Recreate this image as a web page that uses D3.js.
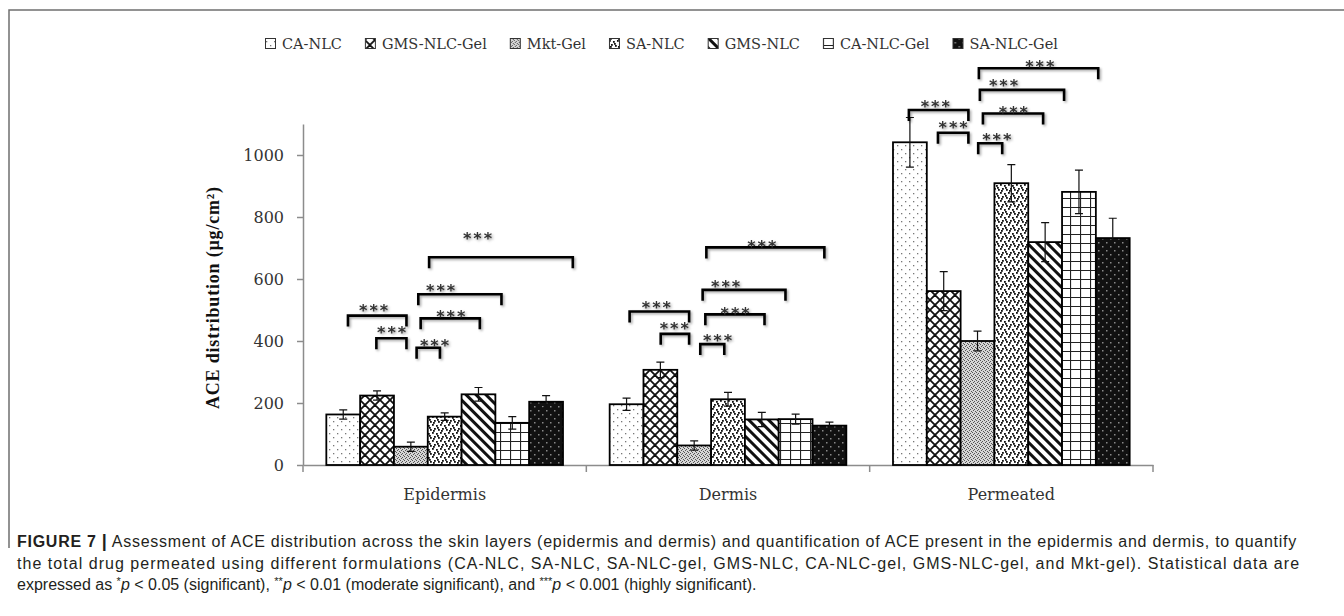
<!DOCTYPE html>
<html>
<head>
<meta charset="utf-8">
<title>ACE distribution</title>
<script src="https://cdnjs.cloudflare.com/ajax/libs/d3/7.8.5/d3.min.js"></script>
<style>
  html, body { margin: 0; padding: 0; background: #fff; }
  svg { display: block; }
  .axis text, .cat { font-family: 'DejaVu Serif', serif; font-size: 16px; fill: #333; }
  .legend text { font-family: 'DejaVu Serif', serif; font-size: 14.5px; fill: #333; }
  .ylabel { font-family: 'Liberation Serif', 'Times New Roman', serif; font-weight: bold; font-size: 18px; letter-spacing: 0.8px; fill: #111; }
  .stars { font-family: 'DejaVu Sans', sans-serif; font-weight: bold; font-size: 16px; letter-spacing: 2px; fill: #333; }
  .caption { font-family: 'Liberation Sans', Arial, sans-serif; font-size: 16px; fill: #231f20; }
</style>
</head>
<body>
<svg id="chart" width="1344" height="616"></svg>
<script>
const categories = ['Epidermis', 'Dermis', 'Permeated'];
const seriesNames = ['CA-NLC', 'GMS-NLC-Gel', 'Mkt-Gel', 'SA-NLC', 'GMS-NLC', 'CA-NLC-Gel', 'SA-NLC-Gel'];

// mean values per series (Epidermis, Dermis, Permeated)
const caNlc     = [163, 196, 1041];
const gmsNlcGel = [224, 307, 561];
const mktGel    = [59, 63, 400];
const saNlc     = [156, 212, 909];
const gmsNlc    = [228, 147, 719];
const caNlcGel  = [136, 148, 881];
const saNlcGel  = [204, 127, 732];

// error bar half widths
const caNlcErr     = [15, 20, 80];
const gmsNlcGelErr = [15, 25, 63];
const mktGelErr    = [15, 15, 32];
const saNlcErr     = [12, 22, 60];
const gmsNlcErr    = [22, 23, 63];
const caNlcGelErr  = [20, 16, 70];
const saNlcGelErr  = [20, 11, 64];

const yTicks = [0, 200, 400, 600, 800, 1000];

// significance brackets: category, from slot, to slot, level, star slot, star level
const brackets = [
  [0, 0.64, 2.37, 482, 1.40, 510],
  [0, 1.48, 2.37, 409, 1.93, 439],
  [0, 2.67, 3.36, 378, 3.20, 398],
  [0, 2.79, 4.54, 473, 3.68, 491],
  [0, 2.72, 5.18, 551, 3.38, 575],
  [0, 3.04, 7.29, 670, 4.47, 745],
  [1, 0.59, 2.35, 495, 1.38, 522],
  [1, 1.51, 2.35, 423, 1.91, 452],
  [1, 2.68, 3.39, 390, 3.19, 414],
  [1, 2.83, 4.58, 486, 3.71, 502],
  [1, 2.75, 5.20, 565, 3.43, 588],
  [1, 2.86, 6.35, 702, 4.50, 718],
  [2, 0.47, 2.23, 1145, 1.25, 1170],
  [2, 1.33, 2.23, 1072, 1.78, 1102],
  [2, 2.52, 3.23, 1038, 3.07, 1062],
  [2, 2.66, 4.44, 1134, 3.56, 1150],
  [2, 2.57, 5.06, 1210, 3.27, 1236],
  [2, 2.54, 6.07, 1280, 4.34, 1298]
];

const captionLines = [
  'Assessment of ACE distribution across the skin layers (epidermis and dermis) and quantification of ACE present in the epidermis and dermis, to quantify',
  'the total drug permeated using different formulations (CA-NLC, SA-NLC, SA-NLC-gel, GMS-NLC, CA-NLC-gel, GMS-NLC-gel, and Mkt-gel). Statistical data are'
];

const values = [caNlc, gmsNlcGel, mktGel, saNlc, gmsNlc, caNlcGel, saNlcGel];
const errors = [caNlcErr, gmsNlcGelErr, mktGelErr, saNlcErr, gmsNlcErr, caNlcGelErr, saNlcGelErr];
const patternIds = ['pCa', 'pGmsGel', 'pMkt', 'pSa', 'pGms', 'pCaGel', 'pSaGel'];

const svg = d3.select('#chart');
const defs = svg.append('defs');

// fill patterns, one per formulation
function tile(id, w, h, bg) {
  const p = defs.append('pattern').attr('id', id)
    .attr('patternUnits', 'userSpaceOnUse')
    .attr('width', w).attr('height', h);
  p.append('rect').attr('width', w).attr('height', h).attr('fill', bg);
  return p;
}
let p = tile('pCa', 8, 8, '#fff');
p.append('rect').attr('x', 1).attr('y', 1).attr('width', 1.3).attr('height', 1.3).attr('fill', '#777');
p.append('rect').attr('x', 5).attr('y', 5).attr('width', 1.3).attr('height', 1.3).attr('fill', '#777');

p = tile('pGmsGel', 10, 10, '#fff');
p.append('path').attr('d', 'M0,0L10,10M10,0L0,10M-5,5L5,-5M5,15L15,5M-5,5L5,15M5,-5L15,5')
  .attr('stroke', '#111').attr('stroke-width', 1.8);

p = tile('pMkt', 4, 4, '#d6d6d6');
[[0, 0], [2, 1], [1, 2], [3, 3]].forEach(d => p.append('rect').attr('x', d[0]).attr('y', d[1])
  .attr('width', 1).attr('height', 1).attr('fill', '#555'));

p = tile('pSa', 8, 8, '#fff');
[[0, 0], [4, 1], [2, 4], [6, 5], [1, 6], [5, 3]].forEach(d => p.append('rect').attr('x', d[0]).attr('y', d[1])
  .attr('width', 1.8).attr('height', 1.8).attr('fill', '#111'));

p = defs.append('pattern').attr('id', 'pGms').attr('patternUnits', 'userSpaceOnUse')
  .attr('width', 7).attr('height', 7).attr('patternTransform', 'rotate(-45)');
p.append('rect').attr('width', 7).attr('height', 7).attr('fill', '#fff');
p.append('rect').attr('width', 3).attr('height', 7).attr('fill', '#111');

p = tile('pCaGel', 10, 9, '#fff');
p.append('path').attr('d', 'M0.5,0V9M0,0.5H10').attr('stroke', '#222').attr('stroke-width', 1.2);

p = tile('pSaGel', 8, 8, '#111');
p.append('rect').attr('x', 2).attr('y', 2).attr('width', 1.5).attr('height', 1.5).attr('fill', '#888');
p.append('rect').attr('x', 6).attr('y', 6).attr('width', 1.5).attr('height', 1.5).attr('fill', '#888');

const shadow = defs.append('filter').attr('id', 'shadow')
  .attr('x', '-10%').attr('y', '-30%').attr('width', '130%').attr('height', '180%');
shadow.append('feDropShadow').attr('dx', 1.5).attr('dy', 1.5).attr('stdDeviation', 1)
  .attr('flood-color', '#000').attr('flood-opacity', 0.35);

// frame
svg.append('path').attr('d', 'M1344,10H9V548')
  .attr('fill', 'none').attr('stroke', '#6f6f6f').attr('stroke-width', 1.5);

// scales
const x0 = d3.scaleBand().domain(categories).range([303, 1153]);
const x1 = d3.scaleBand().domain(seriesNames).range([0, x0.bandwidth()]).paddingOuter(0.69);
const y = d3.scaleLinear().domain([0, 1100]).range([465, 124]);

function slotX(ci, pos) {
  return x0(categories[ci]) + x1(seriesNames[0]) + pos * x1.step();
}

// y axis
const yAxis = svg.append('g').attr('class', 'axis')
  .attr('transform', 'translate(303,0)')
  .call(d3.axisLeft(y).tickValues(yTicks).tickFormat(d3.format('d'))
    .tickSize(6).tickSizeOuter(0).tickPadding(13));
yAxis.selectAll('path, line').attr('stroke', '#8c8c8c').attr('stroke-width', 1.5);

// x axis: line, boundary ticks, category labels
const xAxis = svg.append('g').attr('class', 'axis')
  .attr('transform', 'translate(0,465)')
  .call(d3.axisBottom(x0).tickSize(0).tickSizeOuter(0).tickPadding(24));
xAxis.select('.domain').attr('stroke', '#8c8c8c').attr('stroke-width', 1.5);
xAxis.selectAll('.tick line').remove();
const bounds = categories.map(c => x0(c)).concat([x0(categories[categories.length - 1]) + x0.bandwidth()]);
xAxis.selectAll('.bound').data(bounds).enter().append('line')
  .attr('x1', d => d).attr('x2', d => d).attr('y1', 0).attr('y2', 7)
  .attr('stroke', '#8c8c8c').attr('stroke-width', 1.5);

svg.append('text').attr('class', 'ylabel')
  .attr('transform', 'translate(219,' + y(540) + ') rotate(-90)')
  .attr('text-anchor', 'middle')
  .text('ACE distribution (µg/cm²)');

// bars
const rows = [];
seriesNames.forEach((s, si) => categories.forEach((c, ci) => {
  rows.push({ s: s, si: si, c: c, v: values[si][ci], e: errors[si][ci] });
}));

const bar = svg.append('g').selectAll('g').data(rows).enter().append('g');
bar.append('rect')
  .attr('x', d => x0(d.c) + x1(d.s))
  .attr('y', d => y(d.v))
  .attr('width', x1.bandwidth())
  .attr('height', d => y(0) - y(d.v))
  .attr('fill', d => 'url(#' + patternIds[d.si] + ')')
  .attr('stroke', '#000').attr('stroke-width', 1.8);

const cx = d => x0(d.c) + x1(d.s) + x1.bandwidth() / 2;
bar.append('path')
  .attr('d', d => {
    const a = y(d.v + d.e), b = y(d.v - d.e), m = cx(d);
    return 'M' + (m - 4) + ',' + a + 'H' + (m + 4) + 'M' + m + ',' + a + 'V' + b + 'M' + (m - 4) + ',' + b + 'H' + (m + 4);
  })
  .attr('fill', 'none').attr('stroke', '#111').attr('stroke-width', 1.2);

// significance brackets
const sig = svg.append('g').attr('filter', 'url(#shadow)');
sig.selectAll('path').data(brackets).enter().append('path')
  .attr('d', d => {
    const a = slotX(d[0], d[1]), b = slotX(d[0], d[2]), l = y(d[3]);
    return 'M' + a + ',' + (l + 11) + 'V' + l + 'H' + b + 'V' + (l + 11);
  })
  .attr('fill', 'none').attr('stroke', '#000').attr('stroke-width', 2.6);
sig.selectAll('text').data(brackets).enter().append('text')
  .attr('class', 'stars')
  .attr('x', d => slotX(d[0], d[4]) + 1)
  .attr('y', d => y(d[5]) + 9.5)
  .attr('text-anchor', 'middle')
  .text('***');

// legend
const legend = svg.append('g').attr('class', 'legend');
let lx = 265;
seriesNames.forEach((s, si) => {
  const g = legend.append('g').attr('transform', 'translate(' + lx + ',0)');
  g.append('rect').attr('x', 0.5).attr('y', 38.5).attr('width', 10).attr('height', 10)
    .attr('fill', 'url(#' + patternIds[si] + ')').attr('stroke', '#333').attr('stroke-width', 1);
  const t = g.append('text').attr('x', 17).attr('y', 44).attr('dy', '0.35em').text(s);
  lx += 17 + t.node().getComputedTextLength() + 23;
});

// caption
const cap = svg.append('g').attr('class', 'caption');
const line1 = cap.append('text').attr('x', 17).attr('y', 547);
line1.append('tspan').attr('font-weight', 'bold').text('FIGURE 7 ');
line1.append('tspan').attr('font-weight', 'bold').attr('font-size', 18).text('|');
line1.append('tspan').text(' ' + captionLines[0]);
const line2 = cap.append('text').attr('x', 17).attr('y', 568.5).text(captionLines[1]);
// justify the two full lines, mostly by letter spacing
[[line1, 1297], [line2, 1300]].forEach(([t, right]) => {
  const w = t.node().getComputedTextLength();
  const chars = t.text().length;
  t.attr('letter-spacing', ((right - 17 - w) / chars).toFixed(3));
});
const line3 = cap.append('text').attr('x', 17).attr('y', 590);
const parts = [['expressed as ', 0], ['*', 1], ['p', 2], [' < 0.05 (significant), ', 0], ['**', 1], ['p', 2],
  [' < 0.01 (moderate significant), and ', 0], ['***', 1], ['p', 2], [' < 0.001 (highly significant).', 0]];
parts.forEach(d => {
  const ts = line3.append('tspan').text(d[0]);
  if (d[1] === 1) ts.attr('font-size', 11).attr('dy', -5);
  if (d[1] === 2) ts.attr('font-style', 'italic').attr('dy', 5);
});
</script>
</body>
</html>
